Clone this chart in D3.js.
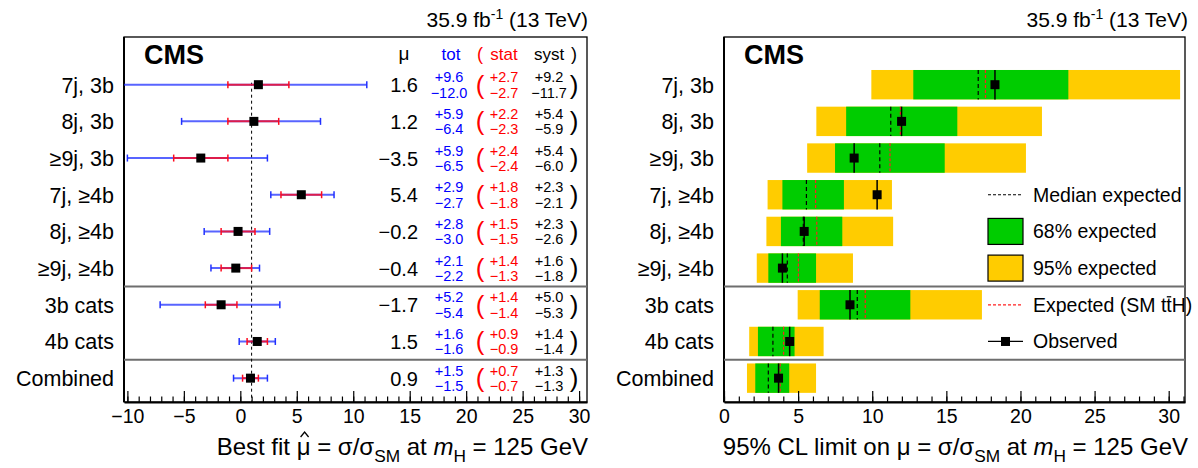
<!DOCTYPE html>
<html><head><meta charset="utf-8">
<script src="https://cdn.jsdelivr.net/npm/d3@7"></script>
<style>
body{margin:0;background:#fff}
text{font-family:"Liberation Sans",Arial,Helvetica,sans-serif}
</style>
</head><body>
<svg id="c" width="1198" height="468"></svg>
<script>
// ---------- data ----------
const categories = ["7j, 3b","8j, 3b","\u22659j, 3b","7j, \u22654b","8j, \u22654b","\u22659j, \u22654b","3b cats","4b cats","Combined"];
const mu     = [1.6, 1.2, -3.5, 5.4, -0.2, -0.4, -1.7, 1.5, 0.9];
const totUp  = [9.6, 5.9, 5.9, 2.9, 2.8, 2.1, 5.2, 1.6, 1.5];
const totDn  = [12.0, 6.4, 6.5, 2.7, 3.0, 2.2, 5.4, 1.6, 1.5];
const statUp = [2.7, 2.2, 2.4, 1.8, 1.5, 1.4, 1.4, 0.9, 0.7];
const statDn = [2.7, 2.3, 2.4, 1.8, 1.5, 1.3, 1.4, 0.9, 0.7];
const systUp = [9.2, 5.4, 5.4, 2.3, 2.3, 1.6, 5.0, 1.4, 1.3];
const systDn = [11.7, 5.9, 6.0, 2.1, 2.6, 1.8, 5.3, 1.4, 1.3];

const lim95Lo  = [9.94, 6.23, 5.61, 2.94, 2.86, 2.21, 4.97, 1.70, 1.55];
const lim68Lo  = [12.77, 8.24, 7.49, 3.94, 3.84, 2.99, 6.46, 2.29, 2.11];
const lim68Hi  = [23.23, 15.74, 14.89, 8.09, 7.98, 6.21, 12.57, 4.76, 4.40];
const lim95Hi  = [30.77, 21.45, 20.37, 11.33, 11.41, 8.70, 17.40, 6.72, 6.21];
const limMedian= [17.15, 11.25, 10.51, 5.56, 5.35, 4.27, 8.99, 3.30, 2.99];
const limExpSM = [17.64, 11.90, 11.20, 6.18, 6.26, 5.02, 9.53, 4.02, 3.79];
const limObs   = [18.28, 11.98, 8.78, 10.33, 5.41, 3.94, 8.50, 4.43, 3.68];

const leftTicks  = [-10, -5, 0, 5, 10, 15, 20, 25, 30];
const rightTicks = [0, 5, 10, 15, 20, 25, 30];
const legendLabels = ["Median expected", "68% expected", "95% expected", "Expected (SM ttH)", "Observed"];

// ---------- layout ----------
const svg = d3.select("#c");
const frameTop = 37, frameBot = 402;
const LP = {x0:124, x1:587}, RP = {x0:724, x1:1185};
const y = d3.scaleLinear().domain([-1.3, 8.65]).range([frameTop, frameBot]);
const xL = d3.scaleLinear().domain([-10.3, 30.7]).range([LP.x0, LP.x1]);
const xR = d3.scaleLinear().domain([0, 31.1]).range([RP.x0, RP.x1]);
const fmt = v => (v < 0 ? "\u2212" + Math.abs(v).toFixed(1) : v.toFixed(1));
const rows = d3.range(categories.length);

function lumi(xRight){
  const t = svg.append("text").attr("x", xRight).attr("y", 27).attr("text-anchor","end").attr("font-size",21);
  t.append("tspan").text("35.9 fb");
  t.append("tspan").attr("font-size",14).attr("dy",-8).text("-1");
  t.append("tspan").attr("dy",8).text(" (13 TeV)");
}

function axis(x, ticks, maxMinor, minMinor){
  const g = svg.append("g").attr("transform",`translate(0,${frameBot})`);
  const minor = d3.range(minMinor, maxMinor + 1);
  g.append("g").call(d3.axisBottom(x).tickValues(minor).tickSizeInner(-5.5).tickSizeOuter(0).tickFormat(""))
    .call(s=>s.select(".domain").remove())
    .selectAll("line").attr("stroke","#000").attr("stroke-width",1.2);
  const ga = g.append("g").call(d3.axisBottom(x).tickValues(ticks).tickSizeInner(-11).tickSizeOuter(0).tickPadding(7)
      .tickFormat(d => d < 0 ? "\u2212" + Math.abs(d) : d));
  ga.select(".domain").attr("stroke","#000").attr("stroke-width",2);
  ga.selectAll("line").attr("stroke","#000").attr("stroke-width",1.2);
  ga.selectAll("text").attr("font-size",19.5).attr("fill","#000").attr("font-family","'Liberation Sans',Arial,sans-serif");
}

function frame(P){
  svg.append("rect").attr("x",P.x0).attr("y",frameTop).attr("width",P.x1-P.x0).attr("height",frameBot-frameTop)
    .attr("fill","none").attr("stroke","#000").attr("stroke-width",1.3);
  svg.append("line").attr("x1",P.x0).attr("x2",P.x0).attr("y1",frameTop).attr("y2",frameBot).attr("stroke","#000").attr("stroke-width",2);
  [5.5, 7.5].forEach(v => svg.append("line").attr("x1",P.x0).attr("x2",P.x1).attr("y1",y(v)).attr("y2",y(v))
    .attr("stroke","#6e6e6e").attr("stroke-width",2));
  svg.append("text").attr("x",P.x0+20).attr("y",64).attr("font-size",27).attr("font-weight","bold").text("CMS");
}

function catLabels(xr){
  svg.append("g").selectAll("text").data(rows).join("text")
    .attr("x", xr).attr("y", i => y(i)+8).attr("text-anchor","end").attr("font-size",21.5).text(i => categories[i]);
}

function xTitle(xRight, lead, fs){
  const t = svg.append("text").attr("x", xRight).attr("y", 455).attr("text-anchor","end").attr("font-size",fs);
  t.append("tspan").text(lead);
  t.append("tspan").text(" = \u03c3/\u03c3");
  t.append("tspan").attr("font-size",fs*0.72).attr("dy",7).text("SM");
  t.append("tspan").attr("dy",-7).text(" at ");
  t.append("tspan").attr("font-style","italic").text("m");
  t.append("tspan").attr("font-size",fs*0.72).attr("dy",7).text("H");
  t.append("tspan").attr("dy",-7).text(" = 125 GeV");
  return t;
}

// ================= LEFT PANEL =================
lumi(588);
frame(LP);
catLabels(114);

svg.append("clipPath").attr("id","clipL").append("rect")
  .attr("x",LP.x0).attr("y",frameTop).attr("width",LP.x1-LP.x0).attr("height",frameBot-frameTop);

// SM line
svg.append("line").attr("x1",xL(1)).attr("x2",xL(1)).attr("y1",y(0)-2).attr("y2",frameBot)
  .attr("stroke","#000").attr("stroke-width",1).attr("stroke-dasharray","3,3");

const gE = svg.append("g").attr("clip-path","url(#clipL)");
gE.selectAll(".tot").data(rows).join("line").attr("class","tot")
  .attr("x1", i => xL(mu[i]-totDn[i])).attr("x2", i => xL(mu[i]+totUp[i]))
  .attr("y1", i => y(i)).attr("y2", i => y(i)).attr("stroke","#2030ff").attr("stroke-opacity",0.75).attr("stroke-width",2);
rows.forEach(i => {
  [mu[i]-totDn[i], mu[i]+totUp[i]].forEach(v => gE.append("line")
    .attr("x1",xL(v)).attr("x2",xL(v)).attr("y1",y(i)-3.5).attr("y2",y(i)+3.5)
    .attr("stroke","#2030ff").attr("stroke-width",1.5));
});
gE.selectAll(".stat").data(rows).join("line").attr("class","stat")
  .attr("x1", i => xL(mu[i]-statDn[i])).attr("x2", i => xL(mu[i]+statUp[i]))
  .attr("y1", i => y(i)).attr("y2", i => y(i)).attr("stroke","#ff0a1e").attr("stroke-opacity",0.8).attr("stroke-width",2);
rows.forEach(i => {
  [mu[i]-statDn[i], mu[i]+statUp[i]].forEach(v => gE.append("line")
    .attr("x1",xL(v)).attr("x2",xL(v)).attr("y1",y(i)-3.5).attr("y2",y(i)+3.5)
    .attr("stroke","#ff0a1e").attr("stroke-width",1.5));
});
gE.selectAll(".mk").data(rows).join("rect").attr("class","mk")
  .attr("x", i => xL(mu[i])-4.5).attr("y", i => y(i)-4.5).attr("width",9).attr("height",9).attr("fill","#000");

// headers
const hy = 60;
svg.append("text").attr("x",404).attr("y",hy).attr("text-anchor","middle").attr("font-size",19).text("\u03bc");
svg.append("text").attr("x",451).attr("y",hy).attr("text-anchor","middle").attr("font-size",17).attr("fill","#0000ff").text("tot");
svg.append("text").attr("x",480).attr("y",hy).attr("text-anchor","middle").attr("font-size",18).attr("fill","#ff0000").text("(");
svg.append("text").attr("x",504).attr("y",hy).attr("text-anchor","middle").attr("font-size",17).attr("fill","#ff0000").text("stat");
svg.append("text").attr("x",549).attr("y",hy).attr("text-anchor","middle").attr("font-size",17).text("syst");
svg.append("text").attr("x",574).attr("y",hy).attr("text-anchor","middle").attr("font-size",18).text(")");

// values
const gV = svg.append("g");
gV.selectAll(".val").data(rows).join("text").attr("x",418).attr("y", i => y(i)+7.5)
  .attr("text-anchor","end").attr("font-size",20).text(i => fmt(mu[i]));
function errCol(xc, up, dn, color){
  gV.selectAll(null).data(rows).join("text").attr("x",xc).attr("y", i => y(i)-2.5)
    .attr("text-anchor","middle").attr("font-size",14.5).attr("fill",color).text(i => "+" + up[i].toFixed(1));
  gV.selectAll(null).data(rows).join("text").attr("x",xc).attr("y", i => y(i)+13)
    .attr("text-anchor","middle").attr("font-size",14.5).attr("fill",color).text(i => "\u2212" + dn[i].toFixed(1));
}
errCol(449, totUp, totDn, "#0000ff");
errCol(504, statUp, statDn, "#ff0000");
errCol(549, systUp, systDn, "#000");
gV.selectAll(null).data(rows).join("text").attr("x",480).attr("y", i => y(i)+9)
  .attr("text-anchor","middle").attr("font-size",26).attr("fill","#ff0000").text("(");
gV.selectAll(null).data(rows).join("text").attr("x",574).attr("y", i => y(i)+9)
  .attr("text-anchor","middle").attr("font-size",26).text(")");

axis(xL, leftTicks, 30, -10);
const tL = xTitle(588, "Best fit \u03bc", 24);
{
  const node = tL.node();
  const idx = node.textContent.indexOf("\u03bc");
  const ext = node.getExtentOfChar(idx);
  const cx = ext.x + ext.width/2 + 1, top = 432;
  svg.append("path").attr("d", `M${cx-4},${top+5} L${cx},${top} L${cx+4},${top+5}`)
    .attr("fill","none").attr("stroke","#000").attr("stroke-width",1.3);
}

// ================= RIGHT PANEL =================
lumi(1188);
frame(RP);
catLabels(714);

const bh = 29.4;
const gB = svg.append("g");
gB.selectAll(".b95").data(rows).join("rect")
  .attr("x", i => xR(lim95Lo[i])).attr("width", i => xR(lim95Hi[i]) - xR(lim95Lo[i]))
  .attr("y", i => y(i)-bh/2).attr("height", bh).attr("fill","#ffcc00");
gB.selectAll(".b68").data(rows).join("rect")
  .attr("x", i => xR(lim68Lo[i])).attr("width", i => xR(lim68Hi[i]) - xR(lim68Lo[i]))
  .attr("y", i => y(i)-bh/2).attr("height", bh).attr("fill","#00cc00");
gB.selectAll(".med").data(rows).join("line")
  .attr("x1", i => xR(limMedian[i])).attr("x2", i => xR(limMedian[i]))
  .attr("y1", i => y(i)-bh/2).attr("y2", i => y(i)+bh/2)
  .attr("stroke","#000").attr("stroke-width",1.2).attr("stroke-dasharray","4,3");
gB.selectAll(".exp").data(rows).join("line")
  .attr("x1", i => xR(limExpSM[i])).attr("x2", i => xR(limExpSM[i]))
  .attr("y1", i => y(i)-bh/2).attr("y2", i => y(i)+bh/2)
  .attr("stroke","#ff2020").attr("stroke-width",1.2).attr("stroke-dasharray","3,2");
gB.selectAll(".obs").data(rows).join("line")
  .attr("x1", i => xR(limObs[i])).attr("x2", i => xR(limObs[i]))
  .attr("y1", i => y(i)-bh/2).attr("y2", i => y(i)+bh/2)
  .attr("stroke","#000").attr("stroke-width",1.5);
gB.selectAll(".om").data(rows).join("rect")
  .attr("x", i => xR(limObs[i])-4.5).attr("y", i => y(i)-4.5).attr("width",9).attr("height",9).attr("fill","#000");

// legend
const lx0 = 988, lx1 = 1023, ltx = 1033;
const gLg = svg.append("g");
gLg.append("line").attr("x1",lx0).attr("x2",lx1).attr("y1",y(3)).attr("y2",y(3))
  .attr("stroke","#000").attr("stroke-width",1.2).attr("stroke-dasharray","3,2");
gLg.append("rect").attr("x",lx0).attr("width",lx1-lx0).attr("y",y(4)-13).attr("height",26)
  .attr("fill","#00cc00").attr("stroke","#000").attr("stroke-width",1.2);
gLg.append("rect").attr("x",lx0).attr("width",lx1-lx0).attr("y",y(5)-13).attr("height",26)
  .attr("fill","#ffcc00").attr("stroke","#000").attr("stroke-width",1.2);
gLg.append("line").attr("x1",lx0).attr("x2",lx1).attr("y1",y(6)).attr("y2",y(6))
  .attr("stroke","#ff2020").attr("stroke-width",1.2).attr("stroke-dasharray","3,2");
gLg.append("line").attr("x1",lx0).attr("x2",lx1).attr("y1",y(7)).attr("y2",y(7))
  .attr("stroke","#000").attr("stroke-width",1.3);
gLg.append("rect").attr("x",(lx0+lx1)/2-4.5).attr("y",y(7)-4.5).attr("width",9).attr("height",9).attr("fill","#000");
legendLabels.forEach((lab, k) => {
  const t = gLg.append("text").attr("x",ltx).attr("y",y(3+k)+7).attr("font-size",19.5).text(lab);
  if (k === 3) {
    const node = t.node();
    const idx = lab.indexOf("tt") + 1;
    const ext = node.getExtentOfChar(idx);
    gLg.append("line").attr("x1",ext.x+0.5).attr("x2",ext.x+ext.width-0.5)
      .attr("y1",ext.y+3).attr("y2",ext.y+3).attr("stroke","#000").attr("stroke-width",1.3);
  }
});

axis(xR, rightTicks, 31, 0);
xTitle(1188, "95% CL limit on \u03bc", 24);
</script>
</body></html>
